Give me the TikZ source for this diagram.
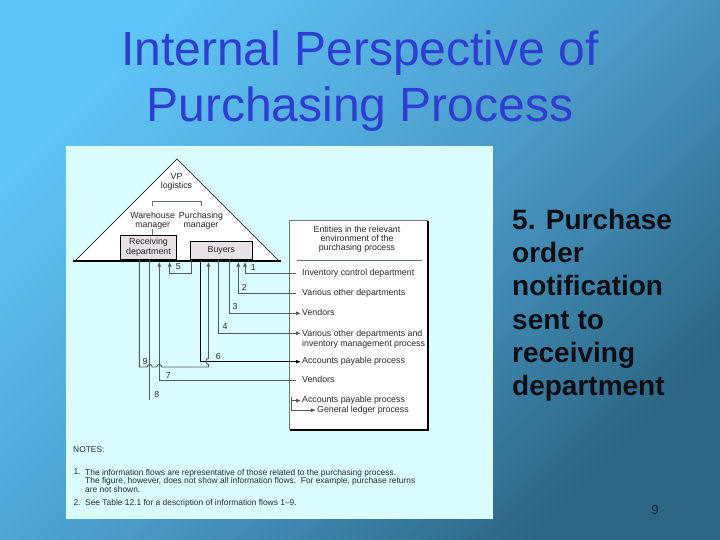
\documentclass[tikz,border=0pt]{standalone}
\usepackage{fontspec}
\setmainfont{Liberation Sans}
\usetikzlibrary{arrows.meta}
\definecolor{bgA}{RGB}{95,196,246}
\definecolor{bgM}{RGB}{76,157,203}
\definecolor{bgB}{RGB}{44,102,132}
\pgfdeclarehorizontalshading{slidebg}{100bp}{color(0bp)=(bgA); color(25bp)=(bgA); color(50bp)=(bgM); color(75bp)=(bgB); color(100bp)=(bgB)}
\definecolor{titleblue}{RGB}{45,62,208}
\definecolor{panelcyan}{RGB}{218,254,255}
\definecolor{boxgray}{RGB}{232,226,230}
\definecolor{flowgray}{RGB}{80,88,88}
\definecolor{txtgray}{RGB}{40,40,40}
\definecolor{pagenum}{RGB}{20,35,55}
\definecolor{bigink}{RGB}{13,13,20}
\begin{document}
\begin{tikzpicture}[x=1pt,y=-1pt,
  slidetitle/.style={font=\fontsize{48}{56}\selectfont, text=titleblue, align=center, inner sep=0pt},
  bigtext/.style={font=\bfseries\fontsize{28}{33.2}\selectfont, text=bigink, align=left, inner sep=0pt},
  dtext/.style={font=\fontsize{8.8}{9.6}\selectfont, text=txtgray, inner sep=0pt},
  entry/.style={dtext, inner xsep=1.5pt, inner ysep=0pt, text height=6pt, text depth=1.7pt},
  notefont/.style={font=\fontsize{8.4}{8.4}\selectfont, text=txtgray, inner sep=0pt},
  orgbox/.style={draw=black, line width=1pt, fill=boxgray, dtext, align=center},
  flowline/.style={draw=flowgray, line width=0.9pt},
  darkflow/.style={draw=black, line width=1pt},
  tip/.style={-{Triangle[length=4.5pt,width=3.4pt]}},
  hairline/.style={draw=flowgray!85, line width=0.6pt},
]
\useasboundingbox (0,0) rectangle (720,540);
\shade[shading=slidebg, shading angle=-45] (0,0) rectangle (720,540);

% title
\node[slidetitle, anchor=north] (title) at (360,30.5) {Internal Perspective of\\Purchasing Process};

% white panel
\node[fill=panelcyan, minimum width=427pt, minimum height=373pt, inner sep=0pt, anchor=north west] (panel) at (66,146) {};

% triangle (organisation)
\path[fill=white] (76,260) -- (177,159) -- (278,260) -- cycle;
\draw[line width=0.7pt] (76,260) -- (177,159) -- (278,260);

\node[dtext, align=center] (vp) at (176.5,181.7) {VP\\logistics};
\node[dtext, align=center, font=\fontsize{8.8}{9.3}\selectfont] (wm) at (152.7,220.4) {Warehouse\\manager};
\node[dtext, align=center, font=\fontsize{8.8}{9.3}\selectfont] (pm) at (201,220.4) {Purchasing\\manager};
\coordinate (brL) at (152.7,206.5);
\coordinate (brR) at (201,206.5);
\draw[hairline] (brL) -- ++(0,-4.8) -| (brR);

\node[orgbox, minimum width=56pt, minimum height=24.3pt, anchor=south west, font=\fontsize{8.8}{10}\selectfont] (recv) at (120,260) {Receiving\\department};
\node[orgbox, minimum width=61.7pt, minimum height=18.3pt, anchor=south west] (buyers) at (190,260) {Buyers};
\draw[hairline] (wm.south) -- (wm.south |- recv.north);
\draw[line width=2.6pt] (73,260.8) -- (281,260.8);

% environment box
\node[draw=flowgray!80, line width=0.6pt, fill=white, minimum width=138pt, minimum height=209pt, inner sep=0pt, anchor=north west] (env) at (289,220) {};
\draw[line width=1.8pt] ([shift={(0.6,1.5)}]env.north east) -- ([shift={(0.6,0.6)}]env.south east) -- ([shift={(1.2,0.6)}]env.south west);
\node[dtext, align=center, font=\fontsize{8.8}{8.9}\selectfont] (envhead) at (357,239.6) {Entities in the relevant\\environment of the\\purchasing process};
\coordinate (sepL) at (297,260);
\coordinate (sepR) at (422,260);
\draw[hairline] (sepL) -- (sepR);

\node[entry, anchor=west] (e1) at (300.5,273.3) {Inventory control department};
\node[entry, anchor=west] (e2) at (300.5,293.3) {Various other departments};
\node[entry, anchor=west] (e3) at (300.5,313.3) {Vendors};
\node[dtext, inner xsep=1.5pt, inner ysep=0pt, align=left, anchor=north west] (e4) at (300.5,330.2) {Various other departments and\\inventory management process};
\node[entry, anchor=west] (e5) at (300.5,361.7) {Accounts payable process};
\node[entry, anchor=west] (e6) at (300.5,380.7) {Vendors};
\node[entry, anchor=west] (e7) at (300.5,400.6) {Accounts payable process};
\node[entry, anchor=west] (e8) at (315.5,410.2) {General ledger process};

% columns
\coordinate (c9) at (139.3,0);
\coordinate (c8) at (149.7,0);
\coordinate (c7) at (159.3,0);
\coordinate (c5a) at (169.7,0);
\coordinate (c5b) at (191,0);
\coordinate (c6) at (200,0);
\coordinate (c9b) at (208.5,0);
\coordinate (c4) at (218.3,0);
\coordinate (c3) at (229.3,0);
\coordinate (c2) at (238.3,0);
\coordinate (c1) at (245,0);

% flows
\draw[flowline, tip, shorten >=2.2pt] ([xshift=-4.5pt]e1.west) -| (buyers.south -| c1);
\draw[flowline, tip, shorten >=2.2pt] ([xshift=-4.5pt]e2.west) -| (buyers.south -| c2);
\draw[flowline, tip] (buyers.south -| c3) |- (e3.west);
\draw[flowline, tip] (buyers.south -| c4) |- ([yshift=-3.1pt]e4.north west);
\draw[flowline, tip, shorten >=2.2pt] (buyers.south -| c5b) -- ++(0,13.3) -| (recv.south -| c5a);
\draw[darkflow, tip] (buyers.south -| c6) |- (e5.west);
\draw[flowline, tip, shorten >=2.2pt] ([xshift=-4.5pt]e6.west) -| (recv.south -| c7);
\coordinate (end8) at (149.7,400);
\draw[flowline] (recv.south -| c8) -- (end8);
\draw[flowline, tip, shorten >=2.2pt] (recv.south -| c9) -- (139.3,367)
   -- (147.2,367) .. controls (147.2,363.6) and (152.2,363.6) .. (152.2,367)
   -- (156.8,367) .. controls (156.8,363.6) and (161.8,363.6) .. (161.8,367)
   -- (208.5,367) -- (208.5,364.6) .. controls (205,364.6) and (205,358.4) .. (208.5,358.4)
   -- (buyers.south -| c9b);
\coordinate (j8) at (291,397.4);
\draw[flowline, tip] (j8) |- (e7.west);
\draw[flowline, tip] (j8) |- (e8.west);

% flow numbers
\node[dtext] (n1) at (253.3,267.7) {1};
\node[dtext] (n2) at (244.3,287.3) {2};
\node[dtext] (n3) at (235,306.7) {3};
\node[dtext] (n4) at (225,326.7) {4};
\node[dtext] (n5) at (178.3,266.7) {5};
\node[dtext] (n6) at (218.3,356) {6};
\node[dtext] (n7) at (168.3,375) {7};
\node[dtext] (n8) at (156.7,394) {8};
\node[dtext] (n9) at (145,361.9) {9};

% notes
\node[notefont, anchor=west] (notes) at (73,449.3) {NOTES:};
\node[notefont, anchor=north west] (note1num) at (73.3,469) {1.};
\node[notefont, anchor=north west, align=left] (note1) at (85,469) {The information flows are representative of those related to the purchasing process.\\The figure, however, does not show all information flows.\ \ For example, purchase returns\\are not shown.};
\node[notefont, anchor=north west] (note2num) at (73.3,499.6) {2.};
\node[notefont, anchor=north west] (note2) at (85,499.6) {See Table 12.1 for a description of information flows 1--9.};

% right-hand text
\node[bigtext, anchor=north west] (step5) at (512,209) {5. Purchase\\order\\notification\\sent to\\receiving\\department};

% page number
\node[font=\fontsize{13}{13}\selectfont, text=pagenum, inner sep=0pt] (pg) at (655,510) {9};
\end{tikzpicture}
\end{document}
